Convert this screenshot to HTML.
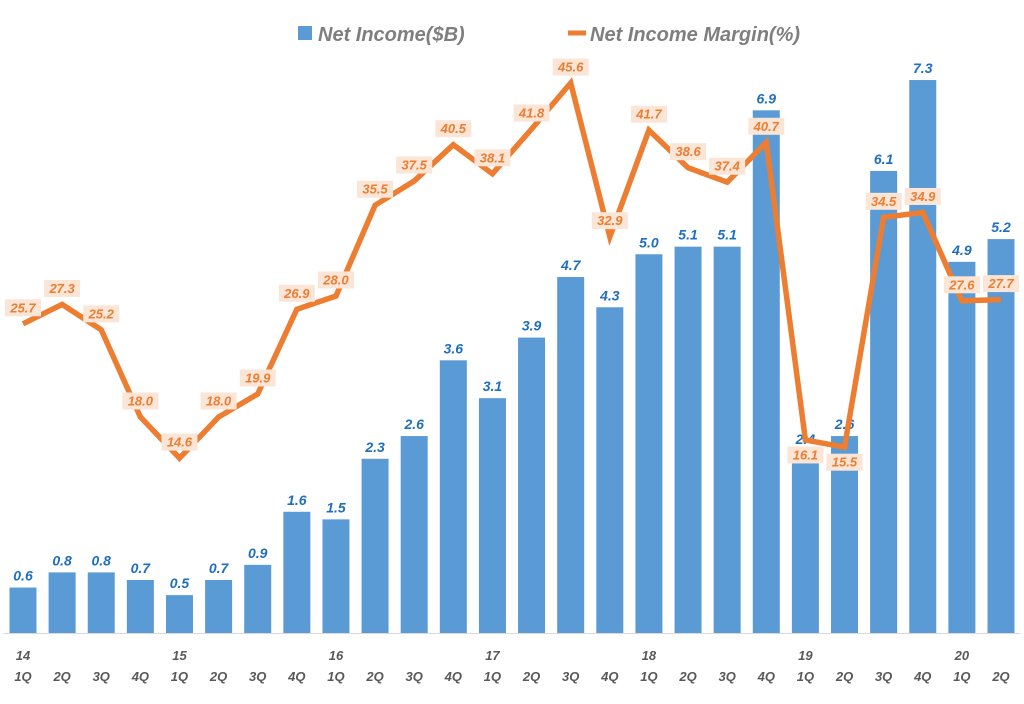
<!DOCTYPE html>
<html><head><meta charset="utf-8"><style>
html,body{margin:0;padding:0;background:#fff;width:1024px;height:704px;overflow:hidden}
svg{display:block;font-family:"Liberation Sans",sans-serif}
</style></head><body>
<svg id="c" width="1024" height="704" xmlns="http://www.w3.org/2000/svg"></svg>
<script>
var inc=[0.6,0.8,0.8,0.7,0.5,0.7,0.9,1.6,1.5,2.3,2.6,3.6,3.1,3.9,4.7,4.3,5.0,5.1,5.1,6.9,2.4,2.6,6.1,7.3,4.9,5.2];
var mar=[25.7,27.3,25.2,18.0,14.6,18.0,19.9,26.9,28.0,35.5,37.5,40.5,38.1,41.8,45.6,32.9,41.7,38.6,37.4,40.7,16.1,15.5,34.5,34.9,27.6,27.7];
var yrs={0:"14",4:"15",8:"16",12:"17",16:"18",20:"19",24:"20"};
var q=["1Q","2Q","3Q","4Q"];
var s='';
s+='<rect x="298" y="26" width="14" height="14" fill="#5b9bd5"/>';
s+='<text x="318" y="41" font-size="20" font-weight="bold" font-style="italic" fill="#7f7f7f">Net Income($B)</text>';
s+='<line x1="568" y1="33" x2="586" y2="33" stroke="#ed7d31" stroke-width="5"/>';
s+='<text x="590" y="41" font-size="20" font-weight="bold" font-style="italic" fill="#7f7f7f">Net Income Margin(%)</text>';
var B=633,k=75.75;
function cx(i){return 23+i*39.12;}
function my(v){return 83+(45.6-v)*12.1;}
s+='<line x1="4" y1="633.5" x2="1020" y2="633.5" stroke="#d9d9d9" stroke-width="1"/>';
for(var i=0;i<26;i++){
 var h=inc[i]*k,x=cx(i);
 s+='<rect x="'+(x-13.5)+'" y="'+(B-h)+'" width="27" height="'+h+'" fill="#5b9bd5"/>';
 s+='<text x="'+x+'" y="'+(B-h-7)+'" text-anchor="middle" font-size="14" font-weight="bold" font-style="italic" fill="#1f6fc0">'+inc[i].toFixed(1)+'</text>';
 if(yrs[i]) s+='<text x="'+x+'" y="660" text-anchor="middle" font-size="13" font-weight="bold" font-style="italic" fill="#595959">'+yrs[i]+'</text>';
 s+='<text x="'+x+'" y="681" text-anchor="middle" font-size="13" font-weight="bold" font-style="italic" fill="#595959">'+q[i%4]+'</text>';
}
var p=[];for(var i=0;i<26;i++)p.push(cx(i).toFixed(1)+','+my(mar[i]).toFixed(1));
s+='<polyline points="'+p.join(' ')+'" fill="none" stroke="#ed7d31" stroke-width="5.5" stroke-linejoin="miter"/>';
for(var i=0;i<26;i++){
 var x=cx(i),y=my(mar[i]);
 var ly=(i==20||i==21)?y+15:y-16;
 s+='<rect x="'+(x-18)+'" y="'+(ly-8.5)+'" width="36" height="17" fill="#fbe5d6"/>';
 s+='<text x="'+x+'" y="'+(ly+4.5)+'" text-anchor="middle" font-size="13" font-weight="bold" font-style="italic" fill="#ed7d31">'+mar[i].toFixed(1)+'</text>';
}
document.getElementById('c').innerHTML=s;
</script>
</body></html>
